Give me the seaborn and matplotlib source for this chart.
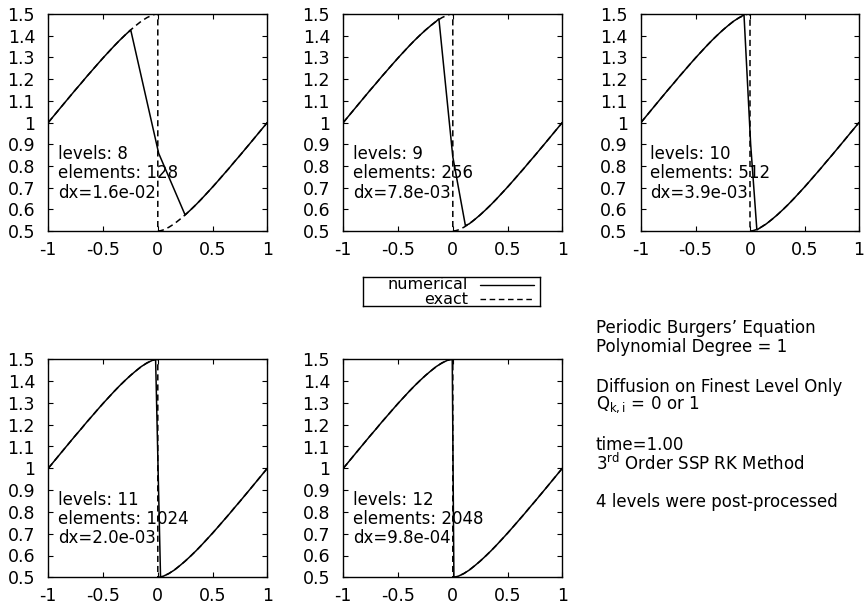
import matplotlib
matplotlib.use("Agg")
import matplotlib.pyplot as plt
import seaborn as sns
import numpy as np
import pandas as pd

# ---------------- data ----------------
x_left = [-1.0, -0.95, -0.9, -0.85, -0.8, -0.75, -0.7, -0.65, -0.6, -0.55, -0.5,
          -0.45, -0.4, -0.35, -0.3, -0.25, -0.2, -0.15, -0.1, -0.05, -0.025, 0.0]
u_left = [1.0, 1.0305, 1.061, 1.0914, 1.1216, 1.1518, 1.181, 1.2112, 1.240, 1.269, 1.2975,
          1.3248, 1.352, 1.378, 1.4024, 1.4257, 1.447, 1.467, 1.483, 1.495, 1.4987, 1.5]
x_right = [0.0, 0.025, 0.05, 0.1, 0.15, 0.2, 0.25, 0.3, 0.35, 0.4, 0.45, 0.5,
           0.55, 0.6, 0.65, 0.7, 0.75, 0.8, 0.85, 0.9, 0.95, 1.0]
u_right = [0.5, 0.5013, 0.505, 0.517, 0.533, 0.553, 0.5743, 0.5976, 0.622, 0.648, 0.6752, 0.7025,
           0.731, 0.760, 0.7888, 0.819, 0.8482, 0.8784, 0.9086, 0.939, 0.9695, 1.0]

levels = [8, 9, 10, 11, 12]
elements = [128, 256, 512, 1024, 2048]
dx_labels = ["1.6e-02", "7.8e-03", "3.9e-03", "2.0e-03", "9.8e-04"]

# numerical shock-region points per level
shock_x = [[-0.247, 0.008, 0.246],
           [-0.127, 0.0, 0.115],
           [-0.055, 0.006, 0.063],
           [-0.02, 0.025],
           [-0.005, 0.01]]
shock_u = [[1.426, 0.858, 0.578],
           [1.478, 0.842, 0.525],
           [1.496, 0.90, 0.505],
           [1.4992, 0.5013],
           [1.4998, 0.5005]]

x_ticks = [-1, -0.5, 0, 0.5, 1]
x_ticklabels = ["-1", "-0.5", "0", "0.5", "1"]
y_ticks = [0.5, 0.6, 0.7, 0.8, 0.9, 1.0, 1.1, 1.2, 1.3, 1.4, 1.5]
y_ticklabels = ["0.5", "0.6", "0.7", "0.8", "0.9", "1", "1.1", "1.2", "1.3", "1.4", "1.5"]

info_lines = ["Periodic Burgers\u2019 Equation",
              "Polynomial Degree = 1",
              "Diffusion on Finest Level Only",
              r"$\mathregular{Q_{k,i}}$ = 0 or 1",
              "time=1.00",
              r"$\mathregular{3^{rd}}$ Order SSP RK Method",
              "4 levels were post-processed"]
info_y_px = [328, 347, 387, 405, 445, 463, 502]

# ---------------- style ----------------
sns.set_style("ticks")
plt.rcParams.update({
    "font.family": ["DejaVu Sans"],
    "font.size": 12,
    "text.color": "black",
    "axes.labelcolor": "black",
    "xtick.labelcolor": "black",
    "ytick.labelcolor": "black",
    "xtick.direction": "in",
    "ytick.direction": "in",
    "xtick.top": True,
    "ytick.right": True,
    "xtick.major.size": 3.8,
    "ytick.major.size": 3.8,
    "xtick.major.width": 0.8,
    "ytick.major.width": 0.8,
    "xtick.major.pad": 7,
    "ytick.major.pad": 9.5,
    "axes.linewidth": 1.0,
    "axes.edgecolor": "black",
    "xtick.color": "black",
    "ytick.color": "black",
    "mathtext.default": "regular",
})

W, H = 865, 610
fig = plt.figure(figsize=(W / 100, H / 100), dpi=100)

# axes rectangles in pixels: (left, top, width, height)
rects = [(48.3, 14, 219, 217), (343.3, 14, 219, 217), (641, 14, 218, 217),
         (48.3, 359.3, 219, 218), (343.3, 359.3, 219, 218)]

dash = (0, (4, 2.6))
exact_x = x_left + x_right
exact_u = u_left + u_right
exact_df = pd.DataFrame({"x": exact_x, "u": exact_u})

for i, (l, t, w, h) in enumerate(rects):
    ax = fig.add_axes([l / W, 1 - (t + h) / H, w / W, h / H])
    sxs, sus = shock_x[i], shock_u[i]
    nx = [xv for xv in x_left if xv < sxs[0]] + sxs + [xv for xv in x_right if xv > sxs[-1]]
    nu = ([u for xv, u in zip(x_left, u_left) if xv < sxs[0]] + sus +
          [u for xv, u in zip(x_right, u_right) if xv > sxs[-1]])
    num_df = pd.DataFrame({"x": nx, "u": nu})

    sns.lineplot(data=exact_df, x="x", y="u", sort=False, estimator=None, ax=ax,
                 color="black", linewidth=1.1, linestyle=dash)
    sns.lineplot(data=num_df, x="x", y="u", sort=False, estimator=None, ax=ax,
                 color="black", linewidth=1.1)

    ax.set_xlim(-1, 1)
    ax.set_ylim(0.5, 1.5)
    ax.set_xticks(x_ticks)
    ax.set_xticklabels(x_ticklabels)
    ax.set_yticks(y_ticks)
    ax.set_yticklabels(y_ticklabels)
    ax.set_xlabel("")
    ax.set_ylabel("")
    for sp in ax.spines.values():
        sp.set_visible(True)
    ax.tick_params(labelsize=12.5)

    txt = "levels: %d\nelements: %d\ndx=%s" % (levels[i], elements[i], dx_labels[i])
    ax.text(0.043, 0.395, txt, transform=ax.transAxes, ha="left", va="top",
            fontsize=12, linespacing=1.08)

# ---------------- legend box ----------------
lx, ly, lw_, lh = 363, 277, 177, 29
lax = fig.add_axes([lx / W, 1 - (ly + lh) / H, lw_ / W, lh / H])
lax.set_xlim(0, 1)
lax.set_ylim(0, 1)
lax.set_xticks([])
lax.set_yticks([])
for sp in lax.spines.values():
    sp.set_visible(True)
    sp.set_linewidth(1.0)
lax.text(0.593, 0.74, "numerical", ha="right", va="center", fontsize=11.5)
lax.text(0.593, 0.24, "exact", ha="right", va="center", fontsize=11.5)
lax.plot([0.661, 0.966], [0.74, 0.74], color="black", linewidth=1.0)
lax.plot([0.661, 0.966], [0.24, 0.24], color="black", linewidth=1.0, linestyle=dash)

# ---------------- info text ----------------
for s, ypx in zip(info_lines, info_y_px):
    fig.text(595.7 / W, 1 - ypx / H, s, ha="left", va="center", fontsize=12)

fig.savefig("out.png", dpi=100)
